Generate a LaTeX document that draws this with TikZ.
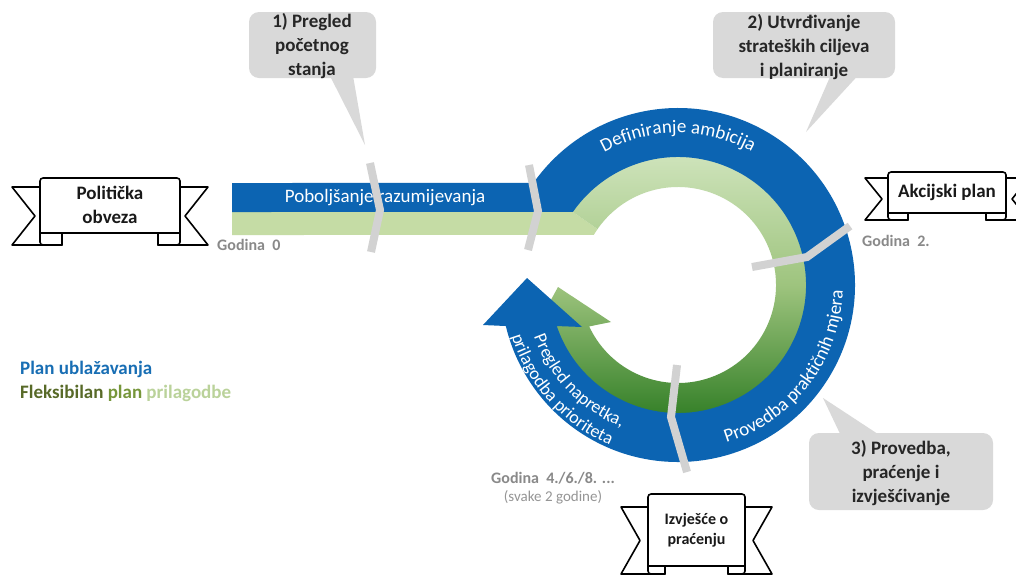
\documentclass[tikz,border=0pt]{standalone}
\usepackage{fontspec}
\setmainfont{Carlito}
\usetikzlibrary{calc,decorations.text}
\definecolor{ringblue}{RGB}{12,100,178}
\definecolor{lgreen}{RGB}{197,220,165}
\definecolor{gtop}{RGB}{212,231,194}
\definecolor{gmid}{RGB}{158,196,126}
\definecolor{gbot}{RGB}{40,120,30}
\definecolor{calloutgray}{RGB}{217,217,217}
\definecolor{sepgray}{RGB}{210,210,210}
\definecolor{labelgray}{RGB}{137,137,137}
\definecolor{legblue}{RGB}{24,110,180}
\definecolor{legolive}{RGB}{88,106,40}
\definecolor{legmid}{RGB}{118,150,58}
\definecolor{leglight}{RGB}{186,210,154}
\newcommand{\ringtxt}{\fontsize{19}{23}\selectfont\color{white}}
\newcommand{\ringtxtsm}{\fontsize{18}{22}\selectfont\color{white}}
% L R T B f w t d n
\newcommand{\ribbonbanner}[9]{%
  \filldraw[ribbonline] (#1+#6,#3+#8) -- (#1-#7,#3+#8) -- (#1-#7+#9,{(#3+#8+#4+#5)/2}) -- (#1-#7,#4+#5) -- (#1+#6,#4+#5) -- cycle;
  \filldraw[ribbonline] (#2-#6,#3+#8) -- (#2+#7,#3+#8) -- (#2+#7-#9,{(#3+#8+#4+#5)/2}) -- (#2+#7,#4+#5) -- (#2-#6,#4+#5) -- cycle;
  \filldraw[ribbonline] (#1,#4) -- (#1,#3+3) arc[start angle=180,end angle=270,radius=3] -- (#2-3,#3) arc[start angle=270,end angle=360,radius=3] -- (#2,#4) -- cycle;
  \filldraw[ribbonline] (#1,#4) -- (#1,#4+#5-3) arc[start angle=180,end angle=90,radius=3] -- (#1+#6,#4+#5) -- (#1+#6,#4) -- cycle;
  \filldraw[ribbonline] (#2,#4) -- (#2,#4+#5-3) arc[start angle=0,end angle=90,radius=3] -- (#2-#6,#4+#5) -- (#2-#6,#4) -- cycle;
}
\begin{document}
\begin{tikzpicture}[x=1pt,y=-1pt,
  ribbonline/.style={draw=black,fill=white,line width=1.6pt,line join=round},
  sepline/.style={draw=sepgray,line width=8pt,line cap=butt,line join=miter},
  callout/.style={fill=calloutgray},
  calltext/.style={font=\fontsize{19}{24}\selectfont\bfseries,text=black!85,align=center,inner sep=0pt},
  bantext/.style={font=\fontsize{19}{24}\selectfont\bfseries,text=black!90,align=center,inner sep=0pt},
  yeartext/.style={font=\fontsize{16}{19}\selectfont\bfseries,text=labelgray,inner sep=0pt},
  legtext/.style={font=\fontsize{19}{24}\selectfont\bfseries,inner sep=0pt,anchor=west}
]
\useasboundingbox (0,0) rectangle (1016,576);
\clip (0,0) rectangle (1016,576);
\fill[white] (0,0) rectangle (1016,576);
\coordinate (C) at (678,285);

% callouts
\fill[callout,rounded corners=10] (249,12) rectangle (376,78);
\fill[callout] (327,70) -- (352,70) -- (365,145) -- cycle;
\fill[callout,rounded corners=10] (713,12) rectangle (895,78);
\fill[callout] (833,70) -- (863,70) -- (806,132) -- cycle;
\fill[callout,rounded corners=10] (809,433) rectangle (993,510);
\fill[callout] (843,440) -- (887,440) -- (823,398) -- cycle;
\node[calltext] (c1) at (312,46) {1) Pregled\\početnog\\stanja};
\node[calltext] (c2) at (804,47) {2) Utvrđivanje\\strateških ciljeva\\i planiranje};
\node[calltext] (c3) at (901,473) {3) Provedba,\\praćenje i\\izvješćivanje};

% green bar
\fill[lgreen] (232,211) -- ($(C)+(214.8:129)$) -- ($(C)+(214.8:98)$) arc[start angle=214.8,end angle=210.7,radius=98] -- (232,235) -- cycle;
% green ring
\shade[top color=gtop,bottom color=gbot,middle color=gmid]
  ($(C)+(214.8:129)$) arc[start angle=214.8,end angle=515,radius=129]
  -- (528,342) -- (558,287) -- (611,322)
  -- ($(C)+(155:98)$) arc[start angle=515,end angle=214.8,radius=98] -- cycle;
% blue shape
\fill[ringblue] (232,183) -- ($(C)+(215.2:177)$) arc[start angle=215.2,end angle=526.6,radius=177]
  -- (483,325) -- (527,278) -- (582,327)
  -- ($(C)+(161.3:128)$) arc[start angle=521.3,end angle=214.8,radius=128] -- (232,212) -- cycle;

% texts on blue
\node[font=\fontsize{19}{23}\selectfont,text=white,inner sep=0pt] (t0) at (385,198) {Poboljšanje razumijevanja};
\path[decorate,decoration={text along path,text align=center,text={|\ringtxt|Definiranje ambicija}}]
  ($(C)+(230:152)$) arc[start angle=230,end angle=310,radius=152];
\path[decorate,decoration={text along path,text align=center,text={|\ringtxt|Provedba praktičnih mjera}}]
  ($(C)+(85:165)$) arc[start angle=85,end angle=-10,radius=165];
\path[decorate,decoration={text along path,text align=center,text={|\ringtxtsm|Pregled napretka,}}]
  ($(C)+(176:153)$) arc[start angle=176,end angle=96,radius=153];
\path[decorate,decoration={text along path,text align=center,text={|\ringtxtsm|prilagodba prioriteta}}]
  ($(C)+(178:174)$) arc[start angle=178,end angle=98,radius=174];

% separators
\draw[sepline] (370,163) -- (380,210) -- (371,252);
\draw[sepline] (529,165) -- (538,211) -- (528,250);
\draw[sepline] (850,226) -- (807,257) -- (752,267);
\draw[sepline] (677,365) -- (671,417) -- (687,472);

% year labels
\node[yeartext,anchor=west] (g0) at (217,245) {Godina\ \ 0};
\node[yeartext,anchor=west] (g2) at (862,241) {Godina\ \ 2.};
\node[yeartext,anchor=west] (g4) at (491,478) {Godina\ \ 4./6./8. ...};
\node[font=\fontsize{15}{18}\selectfont,text=labelgray!90,inner sep=0pt] (g4b) at (553,497) {(svake 2 godine)};

% ribbons
\ribbonbanner{40}{180}{178}{233}{12}{22}{28}{9}{23}
\node[bantext] (b1) at (110,205) {Politička\\obveza};
\ribbonbanner{888}{1006}{172}{213}{7}{20}{23}{6}{17}
\node[bantext] (b2) at (947,192) {Akcijski plan};
\ribbonbanner{648}{745}{494}{566}{8}{17}{27}{13}{19}
\node[bantext,font=\fontsize{16}{20}\selectfont\bfseries] (b3) at (696.5,530) {Izvješće o\\praćenju};

% legend
\node[legtext,text=legblue] (l1) at (20,369) {Plan ublažavanja};
\node[legtext] (l2) at (20,393) {\textcolor{legolive}{Fleksibilan} \textcolor{legmid}{plan} \textcolor{leglight}{prilagodbe}};
\end{tikzpicture}
\end{document}
